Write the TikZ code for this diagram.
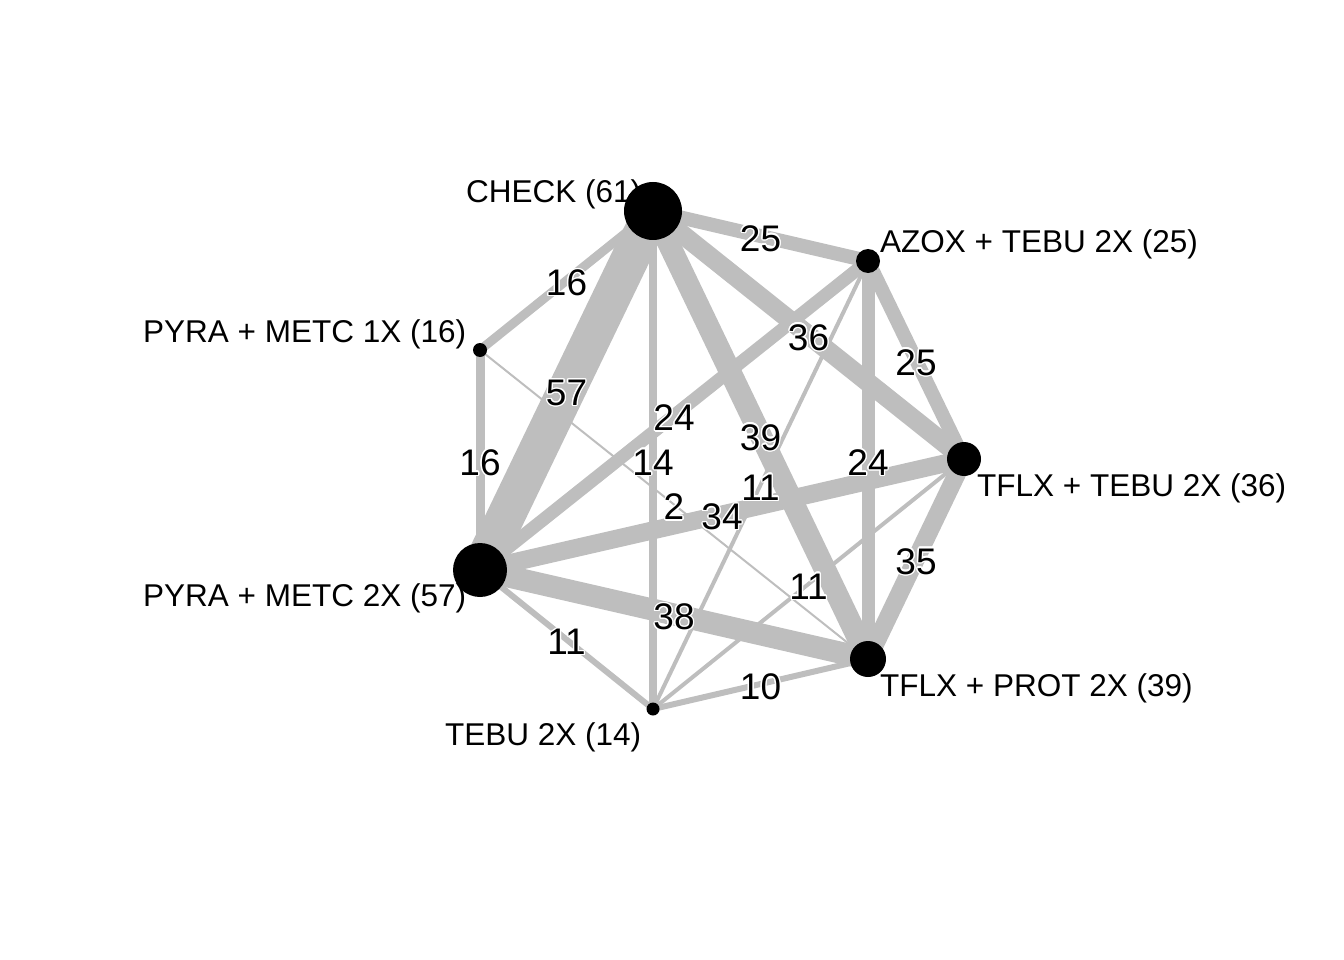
\documentclass[tikz,border=0pt]{standalone}
\usepackage{fontspec}
\setmainfont{Liberation Sans}
\usepackage[copies]{contour}
\contourlength{1.3pt}
\usetikzlibrary{backgrounds}
\definecolor{edgegray}{RGB}{190,190,190}

\begin{document}
\begin{tikzpicture}[x=1pt, y=-1pt]
  \tikzstyle{dot} = [circle, fill=black, inner sep=0pt]
  \tikzstyle{trt} = [anchor=base west, inner sep=0pt, font=\fontsize{31.5}{36}\selectfont]
  \tikzstyle{num} = [inner sep=0pt, yshift=-3pt, font=\fontsize{37}{44}\selectfont]
  \tikzstyle{edge} = [draw=edgegray, line cap=butt]
\useasboundingbox (0,0) rectangle (1344,960);
% treatment names
\node[trt](tchk) at (466,203){CHECK (61)};
\node[trt](tazox) at (880,252){AZOX + TEBU 2X (25)};
\node[trt](tpyra1) at (143,342){PYRA + METC 1X (16)};
\node[trt](ttflxtebu) at (977,496){TFLX + TEBU 2X (36)};
\node[trt](tpyra2) at (143,606){PYRA + METC 2X (57)};
\node[trt](ttflxprot) at (880,696){TFLX + PROT 2X (39)};
\node[trt](ttebu) at (445,745){TEBU 2X (14)};
% treatments
\node[dot, minimum size=58pt](chk) at (653,211){};
\node[dot, minimum size=24pt](azox) at (868,261){};
\node[dot, minimum size=14pt](pyra1) at (480,350){};
\node[dot, minimum size=34pt](tflxtebu) at (964,459){};
\node[dot, minimum size=54pt](pyra2) at (480,570){};
\node[dot, minimum size=36pt](tflxprot) at (868,659){};
\node[dot, minimum size=13pt](tebu) at (653,709){};
% comparisons
\begin{pgfonlayer}{background}
\foreach \a/\b/\w in {chk/azox/14, chk/pyra1/9, chk/pyra2/38, chk/tebu/8,
    chk/tflxtebu/19, chk/tflxprot/22, azox/tflxtebu/14, azox/tflxprot/13,
    azox/pyra2/13, azox/tebu/4, pyra1/pyra2/9, pyra1/tflxprot/2,
    pyra2/tflxtebu/18, pyra2/tflxprot/22, pyra2/tebu/6, tflxtebu/tflxprot/18,
    tflxtebu/tebu/4, tebu/tflxprot/6}
  \draw[edge, line width=\w pt] (\a.center) -- (\b.center);
\end{pgfonlayer}
% number of studies
\foreach \a/\b/\n in {chk/azox/25, chk/pyra1/16, chk/pyra2/57, chk/tebu/14,
    chk/tflxtebu/36, chk/tflxprot/39, azox/tflxtebu/25, azox/tflxprot/24,
    azox/pyra2/24, azox/tebu/11, pyra1/pyra2/16, pyra1/tflxprot/2,
    pyra2/tflxtebu/34, pyra2/tflxprot/38, pyra2/tebu/11, tflxtebu/tflxprot/35,
    tflxtebu/tebu/11, tebu/tflxprot/10}
  \path (\a.center) -- node[num]{\contour{white}{\n}} (\b.center);
\end{tikzpicture}
\end{document}
